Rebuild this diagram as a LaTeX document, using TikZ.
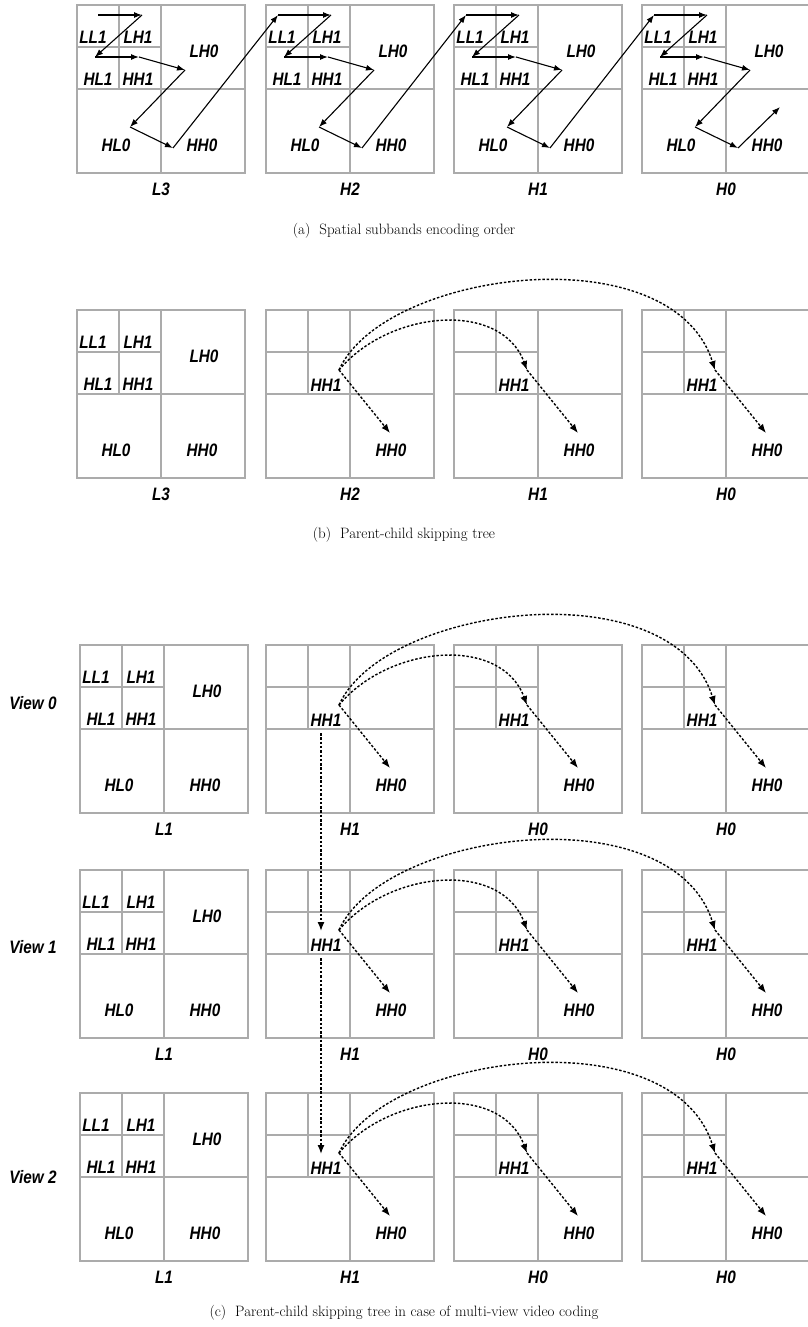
\documentclass[tikz,border=0pt]{standalone}
\usepackage{fontspec}
\newfontfamily\bandfont[FakeStretch=0.85]{Liberation Sans}
\usetikzlibrary{arrows.meta}

\tikzset{
  gridline/.style={draw=black!33, line width=1.5pt},
  band/.style={font=\bandfont\bfseries\itshape\fontsize{18}{18}\selectfont, inner sep=0pt},
  order/.style={-{Latex[length=8pt,width=6pt]}, line width=1.1pt},
  skip/.style={-{Latex[length=9pt,width=7pt]}, line width=1.4pt, dash pattern=on 2.5pt off 1.8pt},
  caption/.style={font=\fontsize{15}{17}\selectfont}
}

% one subband box, 168 wide
\newcommand{\bandgrid}{%
  \draw[gridline] (0,0) rectangle (168,168) (84,0) -- (84,168) (0,84) -- (168,84)
    (42,0) -- (42,84) (0,42) -- (84,42);}

\newcommand{\fullbands}[1]{%
  \node[band] (#1-ll1) at (16,32) {LL1};
  \node[band] (#1-lh1) at (61,32) {LH1};
  \node[band] (#1-hl1) at (21,74) {HL1};
  \node[band] (#1-hh1) at (61,74) {HH1};
  \node[band] (#1-lh0) at (127,46) {LH0};
  \node[band] (#1-hl0) at (39,140) {HL0};
  \node[band] (#1-hh0) at (125,140) {HH0};}

\begin{document}
\begin{tikzpicture}[x=1pt,y=-1pt]
\useasboundingbox (0,0) rectangle (807,1327);

% (a) encoding order
\foreach \bx/\nm [count=\i] in {77/L3,266/H2,454/H1,642/H0} {
  \begin{scope}[shift={(\bx,5)}]
    \bandgrid
    \fullbands{a\i}
    \node[band] (a\i-name) at (84,184) {\nm};
    \coordinate (a\i-p0) at (12,10);
    \coordinate (a\i-p1) at (65,10);
    \coordinate (a\i-p2) at (18,52);
    \coordinate (a\i-p3) at (62,52);
    \coordinate (a\i-p4) at (108,65);
    \coordinate (a\i-p5) at (53,122);
    \coordinate (a\i-p6) at (96,143);
    \coordinate (a\i-p7) at (138,102);
  \end{scope}
}
\coordinate (a1-p0) at (98,15);
\foreach \i in {1,...,4}
  \foreach \u/\v in {p0/p1,p1/p2,p2/p3,p3/p4,p4/p5,p5/p6}
    \draw[order] (a\i-\u) -- (a\i-\v);
\foreach \i/\j in {1/2,2/3,3/4}
  \draw[order] (a\i-p6) -- (a\j-p0);
\draw[order] (a4-p6) -- (a4-p7);

\node[caption] (cap-a) at (404,231) {(a)\hspace{0.6em}Spatial subbands encoding order};

% (b) and (c) skipping trees
\foreach \rw/\ty/\fx/\na/\nb/\nc/\nd in {b/310/77/L3/H2/H1/H0,c0/645/80/L1/H1/H0/H0,
    c1/870/80/L1/H1/H0/H0,c2/1093/80/L1/H1/H0/H0} {
  \begin{scope}[shift={(\fx,\ty)}]
    \bandgrid
    \fullbands{\rw1}
    \node[band] (\rw1-name) at (84,184) {\na};
  \end{scope}
  \foreach \bx/\nm [count=\i from 2] in {266/\nb,454/\nc,642/\nd} {
    \begin{scope}[shift={(\bx,\ty)}]
      \bandgrid
      \node[band] (\rw\i-hh1) at (60,75) {HH1};
      \node[band] (\rw\i-hh0) at (125,140) {HH0};
      \node[band] (\rw\i-name) at (84,184) {\nm};
      \coordinate (\rw\i-k) at (73,60);
      \coordinate (\rw\i-t) at (124,123);
      \coordinate (\rw\i-up) at (55,61);
      \coordinate (\rw\i-dn) at (55,88);
    \end{scope}
  }
  \draw[skip] (\rw2-k) .. controls +(50,-60) and +(-26,-70) .. (\rw3-k);
  \draw[skip] (\rw2-k) .. controls +(45,-100) and +(-43,-137) .. (\rw4-k);
  \foreach \i in {2,3,4}
    \draw[skip] (\rw\i-k) -- (\rw\i-t);
}

\draw[skip] (c02-dn) -- (c12-up);
\draw[skip] (c12-dn) -- (c22-up);

\node[band] (v0) at (33,703) {View 0};
\node[band] (v1) at (33,947) {View 1};
\node[band] (v2) at (33,1177) {View 2};

\node[caption] (cap-b) at (404,535) {(b)\hspace{0.6em}Parent-child skipping tree};
\node[caption] (cap-c) at (404,1313) {(c)\hspace{0.6em}Parent-child skipping tree in case of multi-view video coding};
\end{tikzpicture}
\end{document}
